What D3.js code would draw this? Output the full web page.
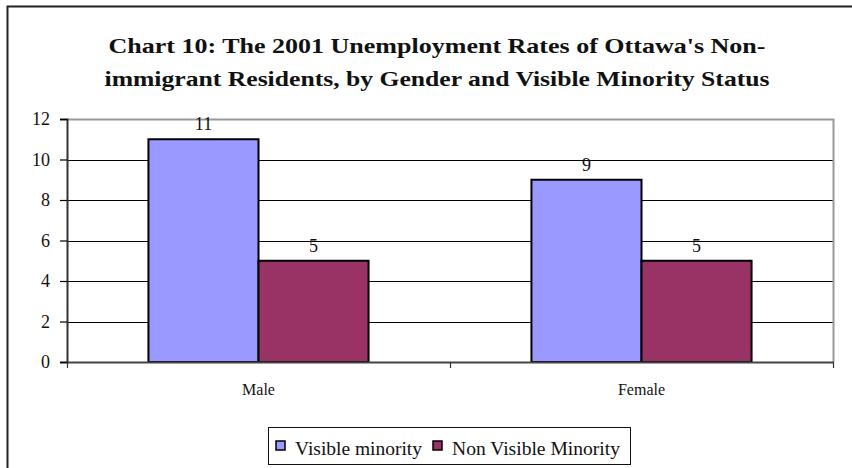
<!DOCTYPE html>
<html>
<head>
<meta charset="utf-8">
<script src="https://cdn.jsdelivr.net/npm/d3@7"></script>
<style>
  html, body { margin: 0; padding: 0; background: #fff; }
  svg { display: block; }
  text { font-family: "Liberation Serif", "DejaVu Serif", serif; fill: #111; }
</style>
</head>
<body>
<svg id="chart" width="852" height="468"></svg>
<script>
// Unemployment rates (%) of non-immigrant residents, 2001
const categories = ["Male", "Female"];
const seriesNames = ["Visible minority", "Non Visible Minority"];
const visibleMinority = [11, 9];
const nonVisibleMinority = [5, 5];
const yTicks = [0, 2, 4, 6, 8, 10, 12];
const titleLines = [
  "Chart 10: The 2001 Unemployment Rates of Ottawa's Non-",
  "immigrant Residents, by Gender and Visible Minority Status"
];
const colors = ["#9999FF", "#993366"];

const svg = d3.select("#chart");

// outer frame (runs off the right and bottom edges)
svg.append("rect")
  .attr("x", 7.5).attr("y", 6.5)
  .attr("width", 900).attr("height", 500)
  .attr("fill", "none").attr("stroke", "#222").attr("stroke-width", 2);

// title
const title = svg.append("g");
titleLines.forEach((t, i) => {
  title.append("text")
    .attr("x", 437).attr("y", 53 + i * 33)
    .attr("text-anchor", "middle")
    .style("font-size", "22px").style("font-weight", "bold")
    .attr("textLength", i === 0 ? 657 : 665)
    .attr("lengthAdjust", "spacingAndGlyphs")
    .text(t);
});

const plot = { left: 67, right: 833, top: 119, bottom: 362 };

const x0 = d3.scaleBand().domain(categories)
  .range([plot.left, plot.right]).paddingInner(0).paddingOuter(0);
const x1 = d3.scaleBand().domain(seriesNames)
  .range([0, x0.bandwidth()]).paddingInner(0).paddingOuter(0.74);
const y = d3.scaleLinear().domain([0, 12]).range([plot.bottom, plot.top]);

// gridlines
svg.append("g")
  .selectAll("line")
  .data(yTicks.filter(v => v > 0 && v < 12))
  .join("line")
  .attr("x1", plot.left).attr("x2", plot.right)
  .attr("y1", d => Math.round(y(d)) + 0.5).attr("y2", d => Math.round(y(d)) + 0.5)
  .attr("stroke", "#000").attr("stroke-width", 1.2);

// plot frame: top and right in gray
svg.append("path")
  .attr("d", `M${plot.left},${plot.top + 0.5}H${plot.right + 0.5}V${plot.bottom}`)
  .attr("fill", "none").attr("stroke", "#999").attr("stroke-width", 2);

// bars
const rows = categories.map((c, i) => ({
  category: c,
  values: [
    { series: seriesNames[0], value: visibleMinority[i] },
    { series: seriesNames[1], value: nonVisibleMinority[i] }
  ]
}));

const groups = svg.append("g").selectAll("g")
  .data(rows).join("g")
  .attr("transform", d => `translate(${x0(d.category)},0)`);

groups.selectAll("rect")
  .data(d => d.values).join("rect")
  .attr("x", d => x1(d.series))
  .attr("y", d => y(d.value))
  .attr("width", x1.bandwidth())
  .attr("height", d => plot.bottom - y(d.value))
  .attr("fill", (d, i) => colors[i])
  .attr("stroke", "#000").attr("stroke-width", 2);

groups.selectAll("text.val")
  .data(d => d.values).join("text")
  .attr("class", "val")
  .attr("x", d => x1(d.series) + x1.bandwidth() / 2)
  .attr("y", d => y(d.value) - 9)
  .attr("text-anchor", "middle")
  .style("font-size", "18px")
  .text(d => d.value);

// y axis
const yAxis = svg.append("g")
  .attr("transform", `translate(${plot.left},0)`)
  .call(d3.axisLeft(y).tickValues(yTicks).tickSize(7).tickPadding(10).tickFormat(d3.format("d")));
yAxis.select(".domain").attr("stroke", "#333").attr("stroke-width", 2);
yAxis.selectAll(".tick line").attr("stroke", "#000").attr("stroke-width", 1.2);
yAxis.selectAll(".tick text")
  .style("font-family", "'Liberation Serif', serif").style("font-size", "18px").style("fill", "#111");

// x axis
const xAxis = svg.append("g")
  .attr("transform", `translate(0,${plot.bottom})`)
  .call(d3.axisBottom(x0).tickSize(0).tickPadding(22));
xAxis.select(".domain").attr("stroke", "#444").attr("stroke-width", 2);
xAxis.selectAll(".tick text")
  .style("font-family", "'Liberation Serif', serif").style("font-size", "16px").style("fill", "#111");

// category separators on the x axis
const sepX = [plot.left, x0(categories[1]), plot.right];
svg.append("g").selectAll("line")
  .data(sepX).join("line")
  .attr("x1", d => Math.round(d) + 0.5).attr("x2", d => Math.round(d) + 0.5)
  .attr("y1", plot.bottom).attr("y2", plot.bottom + 6)
  .attr("stroke", "#333").attr("stroke-width", 1.2);

// legend
const legend = svg.append("g");
legend.append("rect")
  .attr("x", 268.5).attr("y", 427.5).attr("width", 362).attr("height", 37)
  .attr("fill", "#fff").attr("stroke", "#111").attr("stroke-width", 1);
const legendX = [276, 433];
const legendLen = [127, 168];
seriesNames.forEach((s, i) => {
  legend.append("rect")
    .attr("x", legendX[i]).attr("y", 441).attr("width", 9).attr("height", 9)
    .attr("fill", colors[i]).attr("stroke", "#000").attr("stroke-width", 1.5);
  legend.append("text")
    .attr("x", legendX[i] + 19).attr("y", 455)
    .style("font-size", "18px")
    .attr("textLength", legendLen[i])
    .attr("lengthAdjust", "spacingAndGlyphs")
    .text(s);
});
</script>
</body>
</html>
